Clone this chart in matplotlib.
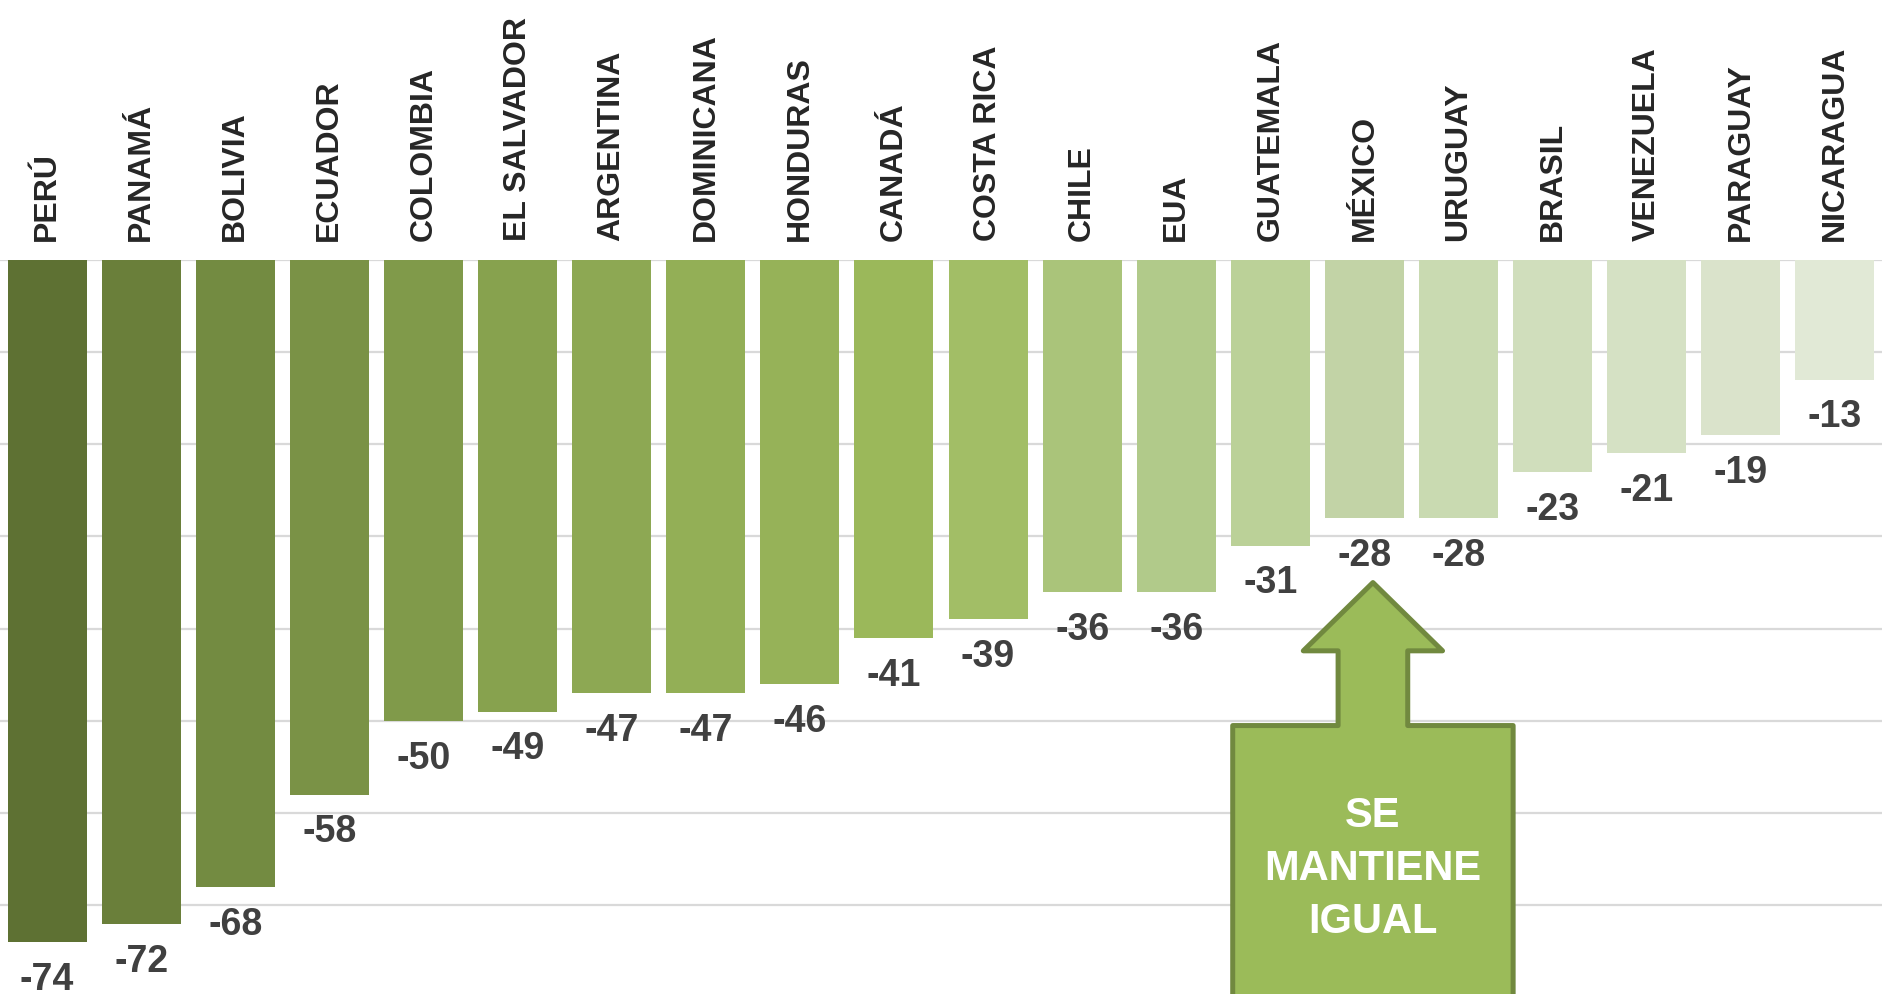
import matplotlib.pyplot as plt
from matplotlib.patches import Polygon

plt.rcParams['font.family'] = ['Liberation Sans', 'DejaVu Sans']

# datos
paises = ['PERÚ', 'PANAMÁ', 'BOLIVIA', 'ECUADOR', 'COLOMBIA', 'EL SALVADOR',
          'ARGENTINA', 'DOMINICANA', 'HONDURAS', 'CANADÁ', 'COSTA RICA',
          'CHILE', 'EUA', 'GUATEMALA', 'MÉXICO', 'URUGUAY', 'BRASIL',
          'VENEZUELA', 'PARAGUAY', 'NICARAGUA']
valores = [-74, -72, -68, -58, -50, -49, -47, -47, -46, -41, -39,
           -36, -36, -31, -28, -28, -23, -21, -19, -13]
colores = ['#5E7133', '#6A7F3A', '#738B41', '#7A9246', '#809A4A', '#87A24E',
           '#8DA853', '#93AF56', '#96B258', '#9BB85A', '#A2BE66', '#AAC47A',
           '#B1CA8A', '#BBD198', '#C2D3A6', '#C9DAB1', '#D0DEBC', '#D5E1C4',
           '#DAE3CB', '#E1E9D6']
destacado = 'MÉXICO'

fig = plt.figure(figsize=(18.82, 9.95), dpi=100)
ax = fig.add_axes([0, 0, 1, 0.738])

x = range(len(paises))
ax.bar(x, valores, width=0.84, color=colores, zorder=2)

ax.set_xlim(-0.5, len(paises) - 0.5)
ax.set_ylim(-79.6, 0)
for g in range(0, -80, -10):
    ax.axhline(g, color='#D9D9D9', lw=1.6, zorder=1)

for s in ax.spines.values():
    s.set_visible(False)
ax.set_yticks([])
ax.set_xticks([])

# nombres de países arriba
for i, p in enumerate(paises):
    ax.annotate(p, (i, 0), xytext=(0, 14), textcoords='offset points',
                rotation=90, ha='center', va='bottom', fontsize=23,
                fontweight='bold', color='#262626', annotation_clip=False)

# etiquetas de valor
for i, v in enumerate(valores):
    ax.annotate(str(v), (i, v), xytext=(0, -13.5), textcoords='offset points',
                ha='center', va='top', fontsize=27, fontweight='bold',
                color='#404040', annotation_clip=False)

# flecha "se mantiene igual"
cx = paises.index(destacado) + 0.09
punta = -35.0
base_cabeza = -42.4
top_caja = -50.5
fondo = -85
flecha = [(cx, punta), (cx + 0.74, base_cabeza), (cx + 0.37, base_cabeza),
          (cx + 0.37, top_caja), (cx + 1.49, top_caja), (cx + 1.49, fondo),
          (cx - 1.49, fondo), (cx - 1.49, top_caja), (cx - 0.37, top_caja),
          (cx - 0.37, base_cabeza), (cx - 0.74, base_cabeza)]
ax.add_patch(Polygon(flecha, closed=True, facecolor='#9BBB59',
                     edgecolor='#71893F', lw=3.6, joinstyle='round',
                     zorder=3, clip_on=True))
ax.text(cx, -65.9, 'SE\nMANTIENE\nIGUAL', ha='center', va='center',
        fontsize=30, fontweight='bold', color='white', linespacing=1.42,
        zorder=4)

plt.savefig('out.png', dpi=100)
